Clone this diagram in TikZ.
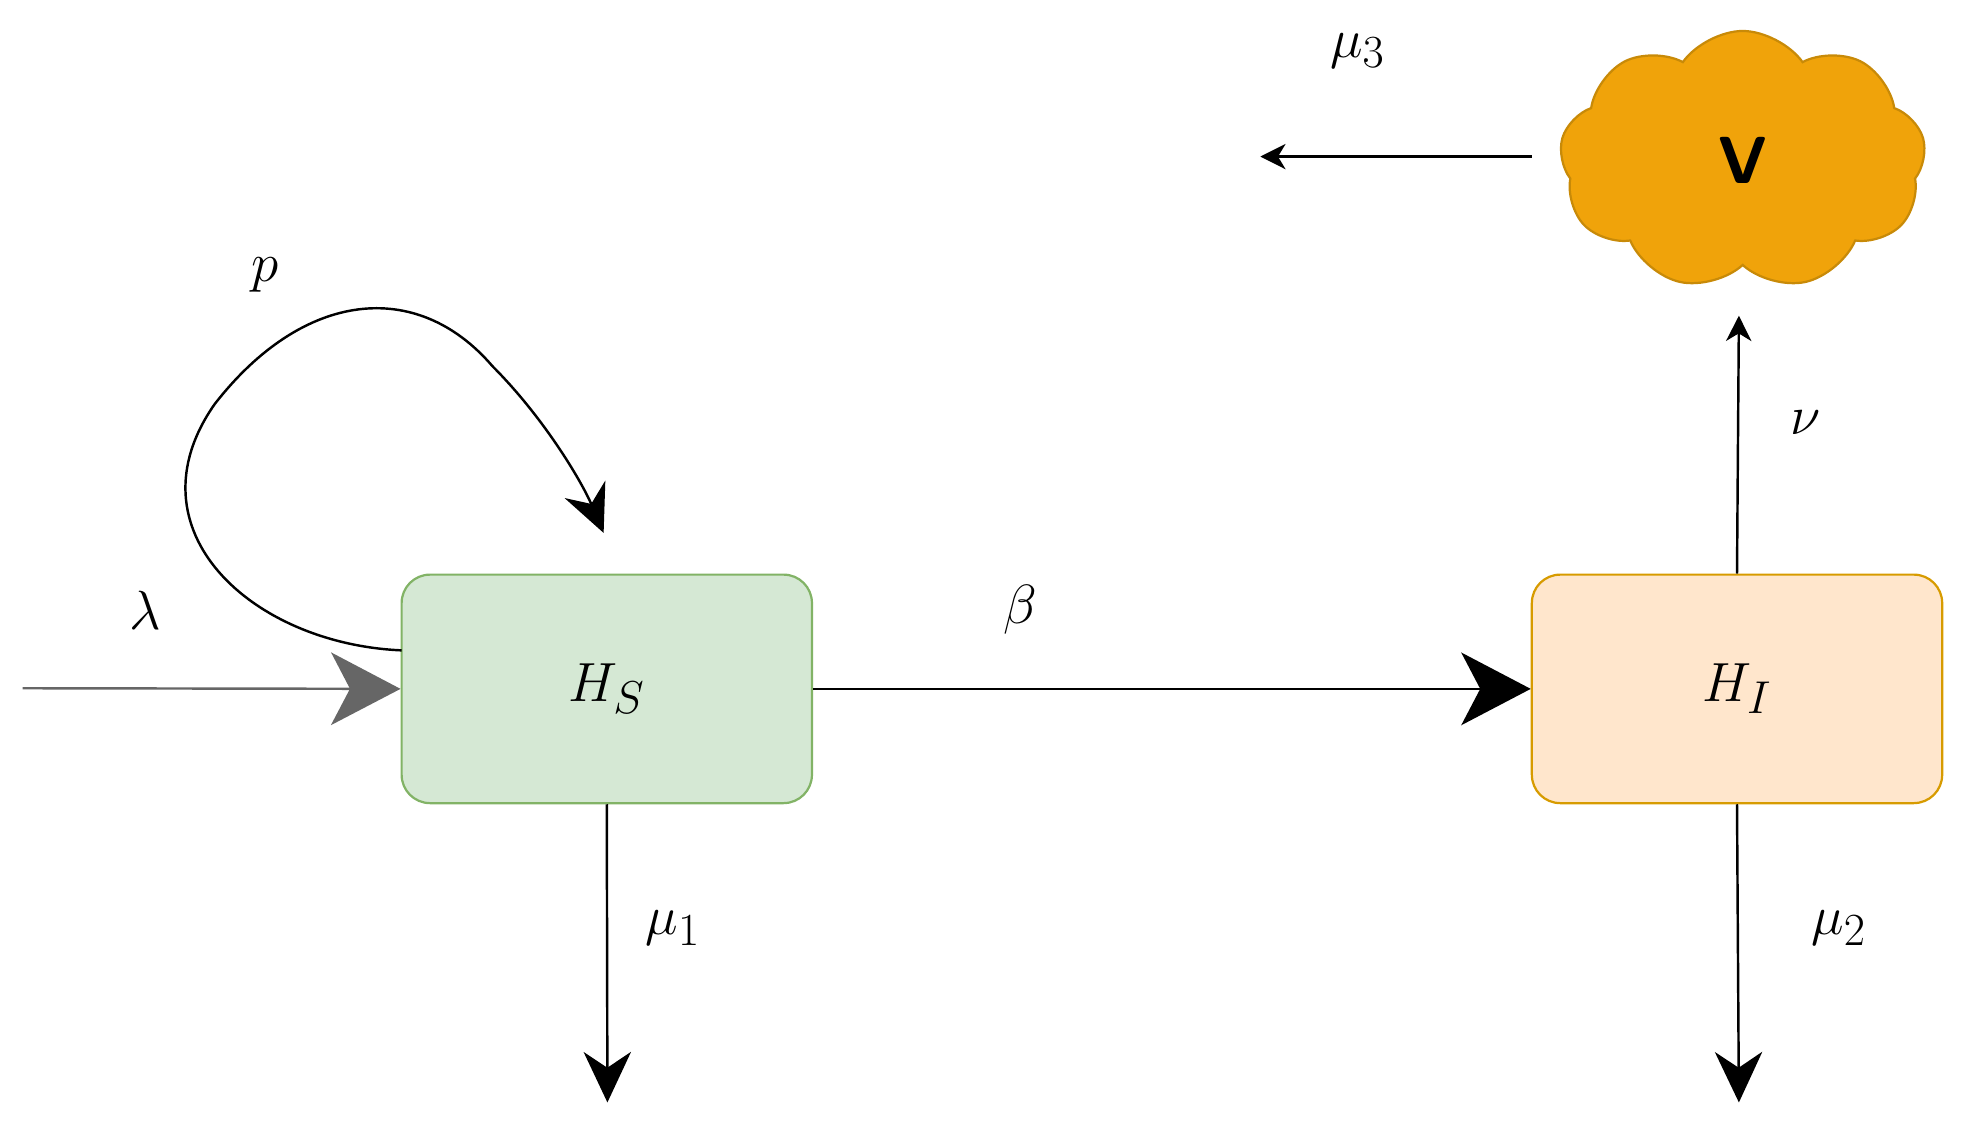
\documentclass[tikz,border=0pt]{standalone}
\usetikzlibrary{shapes.symbols,arrows.meta}
\begin{document}
\begin{tikzpicture}[x=0.02cm,y=-0.02cm,
  box/.style={rectangle,rounded corners=0.45cm,minimum width=6.5cm,minimum height=3.62cm,line width=1pt,font=\fontsize{30}{32}\selectfont},
  lbl/.style={font=\fontsize{28}{30}\selectfont},
  big/.style={-{Stealth[length=1.1cm,width=1.15cm,inset=0.3cm]}},
  mid/.style={-{Stealth[length=0.8cm,width=0.75cm,inset=0.25cm]}},
  sml/.style={-{Stealth[length=0.4cm,width=0.4cm,inset=0.12cm]}},
  every path/.style={line width=1.1pt}]
\useasboundingbox (0,0) rectangle (1560,893);
\definecolor{gf}{HTML}{D5E8D4}\definecolor{gd}{HTML}{82B366}
\definecolor{of}{HTML}{FFE6CC}\definecolor{od}{HTML}{D79B00}
\definecolor{cf}{HTML}{F0A30A}\definecolor{cd}{HTML}{C88A08}
\node[box,fill=gf,draw=gd] (hs) at (480.5,545.5) {$H_S$};
\node[box,fill=of,draw=od] (hi) at (1375.5,545.5) {$H_I$};
\node[cloud,cloud puffs=9,cloud puff arc=110,aspect=1.4,minimum width=5.8cm,minimum height=4.1cm,fill=cf,draw=cd,line width=1pt,font=\sffamily\bfseries\fontsize{30}{32}\selectfont] (v) at (1380,127) {V};
\coordinate (lin) at (18,545);
\coordinate (m1) at (481,873);
\coordinate (m2) at (1377,873);
\coordinate (m3) at (998,124);
\coordinate (lp) at (478,422);
\draw[big,draw=gray!80!black] (lin) -- (hs.west);
\draw[big] (hs.east) -- (hi.west);
\draw[mid] (hs.south) -- (m1);
\draw[mid] (hi.south) -- (m2);
\draw[sml] (hi.north) -- (1377,250);
\draw[sml] (1213,124) -- (m3);
\draw[big,-{Stealth[length=0.75cm,width=0.7cm,inset=0.25cm]}] (318,515) .. controls (200,510) and (100,420) .. (170,320)
  .. controls (240,230) and (330,220) .. (390,290) .. controls (430,330) and (460,380) .. (lp);
\node[lbl] (l1) at (115,483) {$\lambda$};
\node[lbl] (l2) at (808,483) {$\beta$};
\node[lbl] (l3) at (210,218) {$p$};
\node[lbl] (l4) at (533,735) {$\mu_1$};
\node[lbl] (l5) at (1456,735) {$\mu_2$};
\node[lbl] (l6) at (1430,335) {$\nu$};
\node[lbl] (l7) at (1075,40) {$\mu_3$};
\end{tikzpicture}
\end{document}
